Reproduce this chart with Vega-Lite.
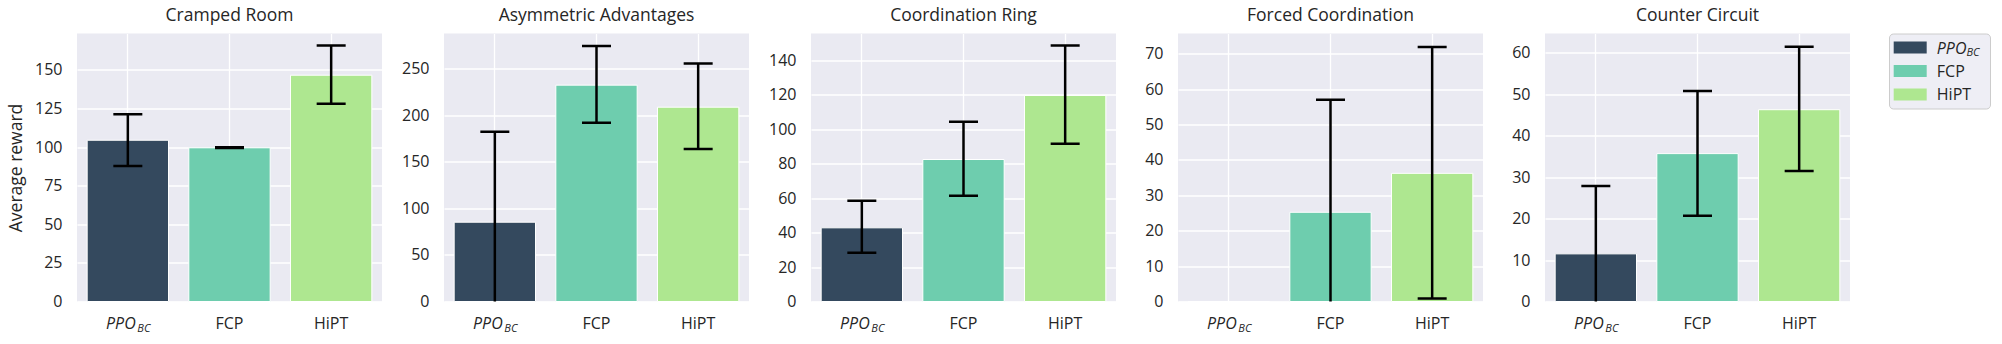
{
  "$schema": "https://vega.github.io/schema/vega-lite/v6.json",
  "background": "white",
  "padding": {"left": 7, "top": 6.5, "right": 0, "bottom": 0},
  "bounds": "full",
  "spacing": 14,
  "data": {"values": [
    {"layout": "Cramped Room", "method": "PPO_BC", "mean": 104.4, "lo": 87.8, "hi": 121.2},
    {"layout": "Cramped Room", "method": "FCP", "mean": 99.5, "lo": 99.3, "hi": 99.8},
    {"layout": "Cramped Room", "method": "HiPT", "mean": 146.5, "lo": 128.0, "hi": 165.8},
    {"layout": "Asymmetric Advantages", "method": "PPO_BC", "mean": 85.2, "lo": -11.9, "hi": 182.3},
    {"layout": "Asymmetric Advantages", "method": "FCP", "mean": 232.5, "lo": 192.0, "hi": 274.7},
    {"layout": "Asymmetric Advantages", "method": "HiPT", "mean": 208.8, "lo": 164.0, "hi": 255.7},
    {"layout": "Coordination Ring", "method": "PPO_BC", "mean": 42.8, "lo": 28.3, "hi": 58.5},
    {"layout": "Coordination Ring", "method": "FCP", "mean": 82.5, "lo": 61.4, "hi": 104.4},
    {"layout": "Coordination Ring", "method": "HiPT", "mean": 119.7, "lo": 91.6, "hi": 148.7},
    {"layout": "Forced Coordination", "method": "PPO_BC", "mean": 0, "lo": null, "hi": null},
    {"layout": "Forced Coordination", "method": "FCP", "mean": 25.2, "lo": -6.6, "hi": 57.0},
    {"layout": "Forced Coordination", "method": "HiPT", "mean": 36.2, "lo": 0.85, "hi": 71.9},
    {"layout": "Counter Circuit", "method": "PPO_BC", "mean": 11.5, "lo": -4.9, "hi": 27.9},
    {"layout": "Counter Circuit", "method": "FCP", "mean": 35.7, "lo": 20.7, "hi": 50.8},
    {"layout": "Counter Circuit", "method": "HiPT", "mean": 46.3, "lo": 31.5, "hi": 61.5}
  ]},
  "config": {
    "font": "Open Sans",
    "view": {"fill": "#EAEAF2", "stroke": null},
    "axis": {"domain": false, "ticks": false, "tickSize": 0, "labelOverlap": false, "labelColor": "#262626", "labelFontSize": 16, "titleFontSize": 17.5, "titleFontWeight": "normal", "titleColor": "#262626", "gridColor": "#ffffff", "gridWidth": 1.3, "gridOpacity": 1},
    "axisY": {"labelPadding": 15, "minExtent": 48, "maxExtent": 48, "labelOverlap": false, "tickCount": 20},
    "title": {"fontSize": 17.5, "fontWeight": "normal", "color": "#262626", "baseline": "alphabetic", "offset": 9, "frame": "group", "anchor": "middle"}
  },
  "hconcat": [
    {
      "title": "Cramped Room",
      "width": 305, "height": 268,
      "transform": [{"filter": "datum.layout === 'Cramped Room'"}],
      "layer": [
        {"mark": {"type": "bar", "stroke": "white", "strokeWidth": 1},
         "encoding": {
           "x": {"field": "method", "type": "nominal", "scale": {"domain": ["PPO_BC", "FCP", "HiPT"], "paddingInner": 0.2, "paddingOuter": 0.1}, "axis": {"title": null, "grid": true, "bandPosition": 0.5, "labelAngle": 0, "labelPadding": 14, "labelExpr": "datum.value === 'PPO_BC' ? 'PPO' : datum.value", "labelFontStyle": {"condition": {"test": "datum.value === 'PPO_BC'", "value": "italic"}, "value": "normal"}, "labelOffset": {"condition": {"test": "datum.value === 'PPO_BC'", "value": -7}, "value": 0}}},
           "y": {"field": "mean", "type": "quantitative", "title": "Average reward", "scale": {"domain": [0, 173.5], "nice": false, "zero": true}, "axis": {"values": [0, 25, 50, 75, 100, 125, 150], "tickCount": 20, "labelOverlap": false, "grid": true, "titlePadding": 7.5, "titleBaseline": "alphabetic"}},
           "color": {"field": "method", "type": "nominal", "scale": {"domain": ["PPO_BC", "FCP", "HiPT"], "range": ["#34495e", "#6ecdae", "#aee790"]}, "legend": null}
         }},
        {"mark": {"type": "rule", "clip": true, "strokeWidth": 2.5, "color": "black"},
         "encoding": {
           "x": {"field": "method", "type": "nominal", "scale": {"domain": ["PPO_BC", "FCP", "HiPT"], "paddingInner": 0.2, "paddingOuter": 0.1}, "axis": {"orient": "bottom", "title": null, "grid": false, "labelAngle": 0, "labelExpr": "datum.value === 'PPO_BC' ? 'BC' : ''", "labelFontSize": 11, "labelFontStyle": "italic", "labelOffset": 16, "labelPadding": 21}},
           "y": {"field": "lo", "type": "quantitative", "title": "Average reward"},
           "y2": {"field": "hi"}
         }},
        {"mark": {"type": "tick", "clip": true, "thickness": 2.5, "size": 29, "color": "black", "opacity": 1},
         "encoding": {
           "x": {"field": "method", "type": "nominal", "axis": null},
           "y": {"field": "lo", "type": "quantitative", "title": "Average reward"}
         }},
        {"mark": {"type": "tick", "clip": true, "thickness": 2.5, "size": 29, "color": "black", "opacity": 1},
         "encoding": {
           "x": {"field": "method", "type": "nominal", "axis": null},
           "y": {"field": "hi", "type": "quantitative", "title": "Average reward"}
         }}
      ],
      "resolve": {"axis": {"x": "independent"}}
    },
    {
      "title": "Asymmetric Advantages",
      "width": 305, "height": 268,
      "transform": [{"filter": "datum.layout === 'Asymmetric Advantages'"}],
      "layer": [
        {"mark": {"type": "bar", "stroke": "white", "strokeWidth": 1},
         "encoding": {
           "x": {"field": "method", "type": "nominal", "scale": {"domain": ["PPO_BC", "FCP", "HiPT"], "paddingInner": 0.2, "paddingOuter": 0.1}, "axis": {"title": null, "grid": true, "bandPosition": 0.5, "labelAngle": 0, "labelPadding": 14, "labelExpr": "datum.value === 'PPO_BC' ? 'PPO' : datum.value", "labelFontStyle": {"condition": {"test": "datum.value === 'PPO_BC'", "value": "italic"}, "value": "normal"}, "labelOffset": {"condition": {"test": "datum.value === 'PPO_BC'", "value": -7}, "value": 0}}},
           "y": {"field": "mean", "type": "quantitative", "title": null, "scale": {"domain": [0, 288], "nice": false, "zero": true}, "axis": {"values": [0, 50, 100, 150, 200, 250], "tickCount": 20, "labelOverlap": false, "grid": true}},
           "color": {"field": "method", "type": "nominal", "scale": {"domain": ["PPO_BC", "FCP", "HiPT"], "range": ["#34495e", "#6ecdae", "#aee790"]}, "legend": null}
         }},
        {"mark": {"type": "rule", "clip": true, "strokeWidth": 2.5, "color": "black"},
         "encoding": {
           "x": {"field": "method", "type": "nominal", "scale": {"domain": ["PPO_BC", "FCP", "HiPT"], "paddingInner": 0.2, "paddingOuter": 0.1}, "axis": {"orient": "bottom", "title": null, "grid": false, "labelAngle": 0, "labelExpr": "datum.value === 'PPO_BC' ? 'BC' : ''", "labelFontSize": 11, "labelFontStyle": "italic", "labelOffset": 16, "labelPadding": 21}},
           "y": {"field": "lo", "type": "quantitative", "title": null},
           "y2": {"field": "hi"}
         }},
        {"mark": {"type": "tick", "clip": true, "thickness": 2.5, "size": 29, "color": "black", "opacity": 1},
         "encoding": {
           "x": {"field": "method", "type": "nominal", "axis": null},
           "y": {"field": "lo", "type": "quantitative", "title": null}
         }},
        {"mark": {"type": "tick", "clip": true, "thickness": 2.5, "size": 29, "color": "black", "opacity": 1},
         "encoding": {
           "x": {"field": "method", "type": "nominal", "axis": null},
           "y": {"field": "hi", "type": "quantitative", "title": null}
         }}
      ],
      "resolve": {"axis": {"x": "independent"}}
    },
    {
      "title": "Coordination Ring",
      "width": 305, "height": 268,
      "transform": [{"filter": "datum.layout === 'Coordination Ring'"}],
      "layer": [
        {"mark": {"type": "bar", "stroke": "white", "strokeWidth": 1},
         "encoding": {
           "x": {"field": "method", "type": "nominal", "scale": {"domain": ["PPO_BC", "FCP", "HiPT"], "paddingInner": 0.2, "paddingOuter": 0.1}, "axis": {"title": null, "grid": true, "bandPosition": 0.5, "labelAngle": 0, "labelPadding": 14, "labelExpr": "datum.value === 'PPO_BC' ? 'PPO' : datum.value", "labelFontStyle": {"condition": {"test": "datum.value === 'PPO_BC'", "value": "italic"}, "value": "normal"}, "labelOffset": {"condition": {"test": "datum.value === 'PPO_BC'", "value": -7}, "value": 0}}},
           "y": {"field": "mean", "type": "quantitative", "title": null, "scale": {"domain": [0, 155.7], "nice": false, "zero": true}, "axis": {"values": [0, 20, 40, 60, 80, 100, 120, 140], "tickCount": 20, "labelOverlap": false, "grid": true}},
           "color": {"field": "method", "type": "nominal", "scale": {"domain": ["PPO_BC", "FCP", "HiPT"], "range": ["#34495e", "#6ecdae", "#aee790"]}, "legend": null}
         }},
        {"mark": {"type": "rule", "clip": true, "strokeWidth": 2.5, "color": "black"},
         "encoding": {
           "x": {"field": "method", "type": "nominal", "scale": {"domain": ["PPO_BC", "FCP", "HiPT"], "paddingInner": 0.2, "paddingOuter": 0.1}, "axis": {"orient": "bottom", "title": null, "grid": false, "labelAngle": 0, "labelExpr": "datum.value === 'PPO_BC' ? 'BC' : ''", "labelFontSize": 11, "labelFontStyle": "italic", "labelOffset": 16, "labelPadding": 21}},
           "y": {"field": "lo", "type": "quantitative", "title": null},
           "y2": {"field": "hi"}
         }},
        {"mark": {"type": "tick", "clip": true, "thickness": 2.5, "size": 29, "color": "black", "opacity": 1},
         "encoding": {
           "x": {"field": "method", "type": "nominal", "axis": null},
           "y": {"field": "lo", "type": "quantitative", "title": null}
         }},
        {"mark": {"type": "tick", "clip": true, "thickness": 2.5, "size": 29, "color": "black", "opacity": 1},
         "encoding": {
           "x": {"field": "method", "type": "nominal", "axis": null},
           "y": {"field": "hi", "type": "quantitative", "title": null}
         }}
      ],
      "resolve": {"axis": {"x": "independent"}}
    },
    {
      "title": "Forced Coordination",
      "width": 305, "height": 268,
      "transform": [{"filter": "datum.layout === 'Forced Coordination'"}],
      "layer": [
        {"mark": {"type": "bar", "stroke": "white", "strokeWidth": 1},
         "encoding": {
           "x": {"field": "method", "type": "nominal", "scale": {"domain": ["PPO_BC", "FCP", "HiPT"], "paddingInner": 0.2, "paddingOuter": 0.1}, "axis": {"title": null, "grid": true, "bandPosition": 0.5, "labelAngle": 0, "labelPadding": 14, "labelExpr": "datum.value === 'PPO_BC' ? 'PPO' : datum.value", "labelFontStyle": {"condition": {"test": "datum.value === 'PPO_BC'", "value": "italic"}, "value": "normal"}, "labelOffset": {"condition": {"test": "datum.value === 'PPO_BC'", "value": -7}, "value": 0}}},
           "y": {"field": "mean", "type": "quantitative", "title": null, "scale": {"domain": [0, 75.7], "nice": false, "zero": true}, "axis": {"values": [0, 10, 20, 30, 40, 50, 60, 70], "tickCount": 20, "labelOverlap": false, "grid": true}},
           "color": {"field": "method", "type": "nominal", "scale": {"domain": ["PPO_BC", "FCP", "HiPT"], "range": ["#34495e", "#6ecdae", "#aee790"]}, "legend": null}
         }},
        {"mark": {"type": "rule", "clip": true, "strokeWidth": 2.5, "color": "black"},
         "encoding": {
           "x": {"field": "method", "type": "nominal", "scale": {"domain": ["PPO_BC", "FCP", "HiPT"], "paddingInner": 0.2, "paddingOuter": 0.1}, "axis": {"orient": "bottom", "title": null, "grid": false, "labelAngle": 0, "labelExpr": "datum.value === 'PPO_BC' ? 'BC' : ''", "labelFontSize": 11, "labelFontStyle": "italic", "labelOffset": 16, "labelPadding": 21}},
           "y": {"field": "lo", "type": "quantitative", "title": null},
           "y2": {"field": "hi"}
         }},
        {"mark": {"type": "tick", "clip": true, "thickness": 2.5, "size": 29, "color": "black", "opacity": 1},
         "encoding": {
           "x": {"field": "method", "type": "nominal", "axis": null},
           "y": {"field": "lo", "type": "quantitative", "title": null}
         }},
        {"mark": {"type": "tick", "clip": true, "thickness": 2.5, "size": 29, "color": "black", "opacity": 1},
         "encoding": {
           "x": {"field": "method", "type": "nominal", "axis": null},
           "y": {"field": "hi", "type": "quantitative", "title": null}
         }}
      ],
      "resolve": {"axis": {"x": "independent"}}
    },
    {
      "title": "Counter Circuit",
      "width": 305, "height": 268,
      "transform": [{"filter": "datum.layout === 'Counter Circuit'"}],
      "layer": [
        {"mark": {"type": "bar", "stroke": "white", "strokeWidth": 1},
         "encoding": {
           "x": {"field": "method", "type": "nominal", "scale": {"domain": ["PPO_BC", "FCP", "HiPT"], "paddingInner": 0.2, "paddingOuter": 0.1}, "axis": {"title": null, "grid": true, "bandPosition": 0.5, "labelAngle": 0, "labelPadding": 14, "labelExpr": "datum.value === 'PPO_BC' ? 'PPO' : datum.value", "labelFontStyle": {"condition": {"test": "datum.value === 'PPO_BC'", "value": "italic"}, "value": "normal"}, "labelOffset": {"condition": {"test": "datum.value === 'PPO_BC'", "value": -7}, "value": 0}}},
           "y": {"field": "mean", "type": "quantitative", "title": null, "scale": {"domain": [0, 64.7], "nice": false, "zero": true}, "axis": {"values": [0, 10, 20, 30, 40, 50, 60], "tickCount": 20, "labelOverlap": false, "grid": true}},
           "color": {"field": "method", "type": "nominal", "scale": {"domain": ["PPO_BC", "FCP", "HiPT"], "range": ["#34495e", "#6ecdae", "#aee790"]}, "legend": null}
         }},
        {"mark": {"type": "rule", "clip": true, "strokeWidth": 2.5, "color": "black"},
         "encoding": {
           "x": {"field": "method", "type": "nominal", "scale": {"domain": ["PPO_BC", "FCP", "HiPT"], "paddingInner": 0.2, "paddingOuter": 0.1}, "axis": {"orient": "bottom", "title": null, "grid": false, "labelAngle": 0, "labelExpr": "datum.value === 'PPO_BC' ? 'BC' : ''", "labelFontSize": 11, "labelFontStyle": "italic", "labelOffset": 16, "labelPadding": 21}},
           "y": {"field": "lo", "type": "quantitative", "title": null},
           "y2": {"field": "hi"}
         }},
        {"mark": {"type": "tick", "clip": true, "thickness": 2.5, "size": 29, "color": "black", "opacity": 1},
         "encoding": {
           "x": {"field": "method", "type": "nominal", "axis": null},
           "y": {"field": "lo", "type": "quantitative", "title": null}
         }},
        {"mark": {"type": "tick", "clip": true, "thickness": 2.5, "size": 29, "color": "black", "opacity": 1},
         "encoding": {
           "x": {"field": "method", "type": "nominal", "axis": null},
           "y": {"field": "hi", "type": "quantitative", "title": null}
         }}
      ],
      "resolve": {"axis": {"x": "independent"}}
    },
    {
      "width": 101, "height": 75,
      "view": {"fill": "#EEEEF5", "stroke": "#CCCCCC", "strokeWidth": 1, "cornerRadius": 4},
      "data": {"values": [
        {"method": "PPO_BC", "label": "PPO", "sub": "BC"},
        {"method": "FCP", "label": "FCP", "sub": ""},
        {"method": "HiPT", "label": "HiPT", "sub": ""}
      ]},
      "encoding": {
        "y": {"field": "method", "type": "nominal", "scale": {"type": "point", "domain": ["PPO_BC", "FCP", "HiPT"], "padding": 0.6}, "axis": {"labels": false, "ticks": false, "domain": false, "grid": false, "title": null, "minExtent": 24.5, "maxExtent": 24.5}}
      },
      "layer": [
        {"mark": {"type": "point", "shape": "M-2.776,-0.36H-0.776V0.36H-2.776Z", "size": 1089, "filled": true, "opacity": 1, "strokeWidth": 0},
         "encoding": {"color": {"field": "method", "type": "nominal", "scale": {"domain": ["PPO_BC", "FCP", "HiPT"], "range": ["#34495e", "#6ecdae", "#aee790"]}, "legend": null}}},
        {"transform": [{"filter": "datum.sub !== ''"}],
         "mark": {"type": "text", "align": "left", "baseline": "alphabetic", "dx": -2.7, "dy": 6, "fontSize": 16, "fontStyle": "italic", "color": "#262626"},
         "encoding": {"text": {"field": "label"}}},
        {"transform": [{"filter": "datum.sub === ''"}],
         "mark": {"type": "text", "align": "left", "baseline": "alphabetic", "dx": -2.7, "dy": 6, "fontSize": 16, "color": "#262626"},
         "encoding": {"text": {"field": "label"}}},
        {"transform": [{"filter": "datum.sub !== ''"}],
         "mark": {"type": "text", "align": "left", "baseline": "alphabetic", "dx": 27, "dy": 8, "fontSize": 11, "fontStyle": "italic", "color": "#262626"},
         "encoding": {"text": {"field": "sub"}}}
      ]
    }
  ]
}
